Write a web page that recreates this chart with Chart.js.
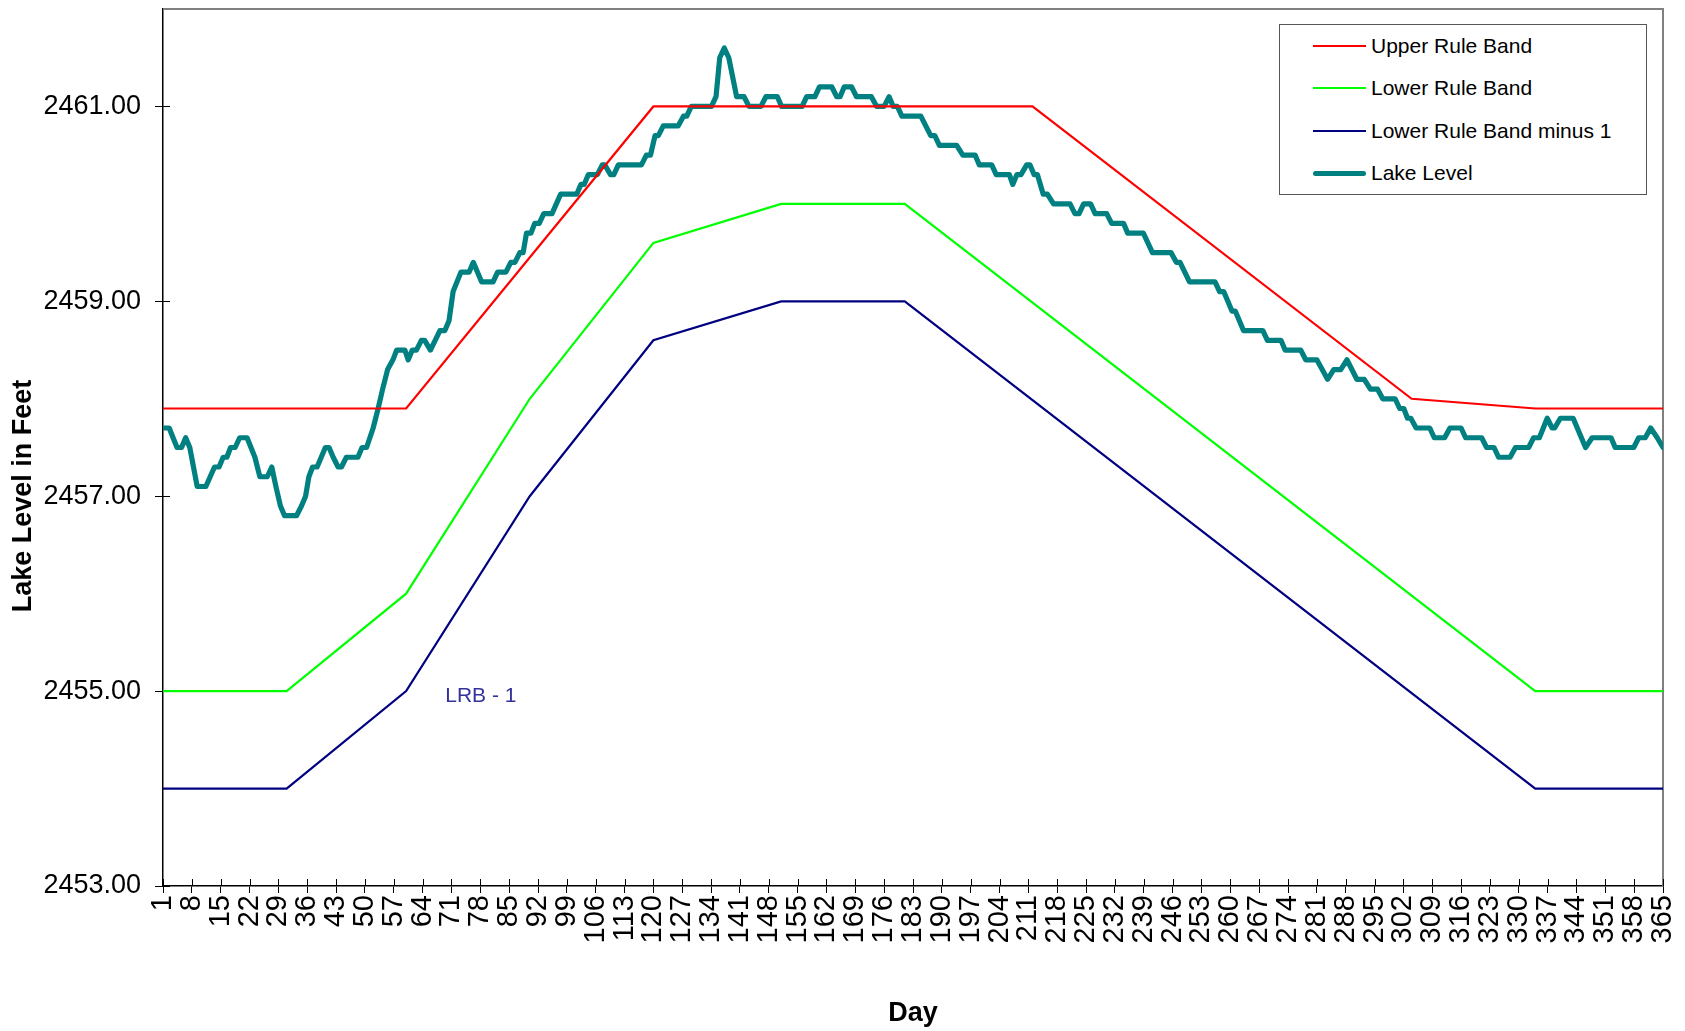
<!DOCTYPE html>
<html>
<head>
<meta charset="utf-8">
<script src="https://cdn.jsdelivr.net/npm/chart.js@4.4.1/dist/chart.umd.min.js"></script>
<style>
html,body{margin:0;padding:0;background:#fff;}
#wrap{position:relative;width:1685px;height:1031px;overflow:hidden;}
canvas{display:block;}
#legend{position:absolute;left:1279px;top:24px;width:366px;height:169px;border:1px solid #555;background:#fff;font-family:"Liberation Sans",Arial,sans-serif;font-size:21px;color:#000;}
.item{position:absolute;left:33px;height:30px;display:flex;align-items:center;white-space:nowrap;}
.swatch{width:53px;margin-right:5px;}
</style>
</head>
<body>
<div id="wrap"><canvas id="c" width="1685" height="1031"></canvas><div id="legend"></div></div>
<script>
const FONT = '"Liberation Sans", Arial, sans-serif';

const dayTicks = [1,8,15,22,29,36,43,50,57,64,71,78,85,92,99,106,113,120,127,134,141,148,155,162,169,176,183,190,197,204,211,218,225,232,239,246,253,260,267,274,281,288,295,302,309,316,323,330,337,344,351,358,365];
const levelTicks = [2453,2455,2457,2459,2461];

const seriesNames = ['Upper Rule Band','Lower Rule Band','Lower Rule Band minus 1','Lake Level'];

const upperDays   = [1, 60, 120, 212, 304, 334, 365];
const upperLevels = [2457.9, 2457.9, 2461.0, 2461.0, 2458.0, 2457.9, 2457.9];

const lowerDays   = [1, 31, 60, 90, 120, 151, 181, 334, 365];
const lowerLevels = [2455.0, 2455.0, 2456.0, 2458.0, 2459.6, 2460.0, 2460.0, 2455.0, 2455.0];

const lrbDays     = [1, 31, 60, 90, 120, 151, 181, 334, 365];
const lrbLevels   = [2454.0, 2454.0, 2455.0, 2457.0, 2458.6, 2459.0, 2459.0, 2454.0, 2454.0];

const lakeDays = [1,2.5,4.4,5.5,6.5,7.5,9.3,11.4,13.5,14.6,15.6,16.5,17.4,18.5,19.6,21.4,23.3,24.5,26.3,27.4,28.4,29.5,30.5,33.4,34.6,35.6,36.4,37.3,38.4,40.4,41.3,42.3,43.5,44.3,45.5,48.3,49.3,50.4,52,53.2,54.3,55.5,56.8,57.7,59.7,60.5,61.5,62.5,63.7,64.5,65.9,68.2,69.4,70.4,71.4,73.3,75.3,76.3,78.3,81.1,82.2,84.2,85.4,86.4,87.6,88.4,89.2,90.3,91.2,92.3,93.4,95.4,97.5,101.4,102.4,103.2,104.2,106.4,107.6,108.2,109.6,110.4,111.5,117.1,118.3,119.3,120.4,121.2,122.4,126.0,127.3,128.1,129.2,134.1,135.2,136.1,137.2,138.3,140.2,142.0,143.2,146.1,147.3,150.1,151.1,156.1,157.2,159.2,160.3,163.3,164.5,165.3,166.3,168.1,169.3,172.9,174.2,176.0,177.2,178.2,179.2,180.3,184.9,187.3,188.3,189.4,193.6,195.1,198.1,199.1,202.1,203.2,206.4,207.2,208.2,209.2,210.6,211.4,212.4,213.2,214.6,215.6,217.1,221.1,222.3,223.3,224.4,226.1,227.2,230.0,231.2,234.1,235.1,238.9,241.1,245.6,246.9,247.8,250.1,256.3,257.4,258.4,260.4,261.2,263.2,267.9,269.0,272.3,273.3,277.1,278.3,281.0,283.6,285.1,286.8,288.3,290.7,292.5,294.0,295.7,297.0,300.0,301.1,302.1,303.0,303.8,305.1,308.4,309.5,312.0,313.3,316.0,317.1,321.0,322.2,324.0,325.1,327.9,329.2,332.4,333.6,335.0,336.9,338.1,338.7,340.1,343.2,346.2,347.8,352.4,353.4,357.9,359.1,360.7,362.0,363.6,365];
const lakeLevels = [2457.7,2457.7,2457.5,2457.5,2457.6,2457.5,2457.1,2457.1,2457.3,2457.3,2457.4,2457.4,2457.5,2457.5,2457.6,2457.6,2457.4,2457.2,2457.2,2457.3,2457.1,2456.9,2456.8,2456.8,2456.9,2457.0,2457.2,2457.3,2457.3,2457.5,2457.5,2457.4,2457.3,2457.3,2457.4,2457.4,2457.5,2457.5,2457.7,2457.9,2458.1,2458.3,2458.4,2458.5,2458.5,2458.4,2458.5,2458.5,2458.6,2458.6,2458.5,2458.7,2458.7,2458.8,2459.1,2459.3,2459.3,2459.4,2459.2,2459.2,2459.3,2459.3,2459.4,2459.4,2459.5,2459.5,2459.7,2459.7,2459.8,2459.8,2459.9,2459.9,2460.1,2460.1,2460.2,2460.2,2460.3,2460.3,2460.4,2460.4,2460.3,2460.3,2460.4,2460.4,2460.5,2460.5,2460.7,2460.7,2460.8,2460.8,2460.9,2460.9,2461.0,2461.0,2461.1,2461.5,2461.6,2461.5,2461.1,2461.1,2461.0,2461.0,2461.1,2461.1,2461.0,2461.0,2461.1,2461.1,2461.2,2461.2,2461.1,2461.1,2461.2,2461.2,2461.1,2461.1,2461.0,2461.0,2461.1,2461.0,2461.0,2460.9,2460.9,2460.7,2460.7,2460.6,2460.6,2460.5,2460.5,2460.4,2460.4,2460.3,2460.3,2460.2,2460.3,2460.3,2460.4,2460.4,2460.3,2460.3,2460.1,2460.1,2460.0,2460.0,2459.9,2459.9,2460.0,2460.0,2459.9,2459.9,2459.8,2459.8,2459.7,2459.7,2459.5,2459.5,2459.4,2459.4,2459.2,2459.2,2459.1,2459.1,2458.9,2458.9,2458.7,2458.7,2458.6,2458.6,2458.5,2458.5,2458.4,2458.4,2458.2,2458.3,2458.3,2458.4,2458.2,2458.2,2458.1,2458.1,2458.0,2458.0,2457.9,2457.9,2457.8,2457.8,2457.7,2457.7,2457.6,2457.6,2457.7,2457.7,2457.6,2457.6,2457.5,2457.5,2457.4,2457.4,2457.5,2457.5,2457.6,2457.6,2457.8,2457.7,2457.7,2457.8,2457.8,2457.5,2457.6,2457.6,2457.5,2457.5,2457.6,2457.6,2457.7,2457.6,2457.5];

const annotationText = 'LRB - 1';
const annotationDay = 69.5;
const annotationLevel = 2454.95;
const yTitle = 'Lake Level in Feet';
const xTitle = 'Day';

function pts(xs, ys){ return xs.map((d,i)=>({x:d, y:ys[i]})); }

const colors = ['#FF0000','#00FF00','#000080','#008080'];
const widths = [2.2, 2.2, 2.2, 5.2];

const datasets = [
  {label: seriesNames[0], data: pts(upperDays, upperLevels)},
  {label: seriesNames[1], data: pts(lowerDays, lowerLevels)},
  {label: seriesNames[2], data: pts(lrbDays, lrbLevels)},
  {label: seriesNames[3], data: pts(lakeDays, lakeLevels)}
].map((d,i)=>Object.assign(d,{
  borderColor: colors[i], backgroundColor: colors[i], borderWidth: widths[i],
  pointRadius: 0, tension: 0, fill: false,
  borderJoinStyle: i===3 ? 'round' : 'miter', borderCapStyle: i===3 ? 'round':'butt'
}));

const decor = {
  id: 'decor',
  beforeDatasetsDraw(chart){
    const {ctx, chartArea:a, scales:{x, y}} = chart;
    ctx.save();
    ctx.strokeStyle = '#808080';
    ctx.lineWidth = 2;
    ctx.beginPath();
    ctx.moveTo(a.left, a.top); ctx.lineTo(a.right, a.top); ctx.lineTo(a.right, a.bottom);
    ctx.stroke();
    ctx.strokeStyle = '#000';
    ctx.lineWidth = 1;
    ctx.beginPath();
    x.ticks.forEach(t=>{ const px = Math.round(x.getPixelForValue(t.value))+0.5; ctx.moveTo(px, a.bottom); ctx.lineTo(px, a.bottom-7); });
    y.ticks.forEach(t=>{ const py = Math.round(y.getPixelForValue(t.value))+0.5; ctx.moveTo(a.left, py); ctx.lineTo(a.left+7, py); });
    ctx.stroke();
    ctx.restore();
  },
  afterDraw(chart){
    const {ctx, scales:{x, y}} = chart;
    ctx.save();
    ctx.fillStyle = '#333399';
    ctx.font = '21px ' + FONT;
    ctx.textAlign = 'left';
    ctx.textBaseline = 'middle';
    ctx.fillText(annotationText, x.getPixelForValue(annotationDay), y.getPixelForValue(annotationLevel));
    ctx.fillStyle = '#000';
    ctx.font = 'bold 27px ' + FONT;
    ctx.translate(24, 496);
    ctx.rotate(-Math.PI/2);
    ctx.textAlign = 'center';
    ctx.fillText(yTitle, 0, 0);
    ctx.restore();
  }
};

const chart = new Chart(document.getElementById('c'), {
  type: 'line',
  data: { datasets },
  options: {
    responsive: false,
    animation: false,
    devicePixelRatio: 1,
    layout: { padding: { left: 0, right: 22, top: 9, bottom: 0 } },
    plugins: { legend: { display: false }, tooltip: { enabled: false } },
    scales: {
      x: {
        type: 'linear', min: 1, max: 365,
        afterBuildTicks: s => { s.ticks = dayTicks.map(v => ({ value: v })); },
        ticks: { autoSkip: false, minRotation: 90, maxRotation: 90, padding: 2, color: '#000',
                 font: { family: FONT, size: 29 }, callback: v => String(v) },
        grid: { drawOnChartArea: false, tickLength: 7, tickColor: '#000', tickWidth: 1 },
        border: { color: '#000', width: 1.5 },
        title: { display: true, text: xTitle, color: '#000', font: { family: FONT, size: 27, weight: 'bold' }, padding: { top: 0, bottom: 1 } },
        afterFit: s => { s.height = 1031 - 886; s.paddingLeft = 0; s.paddingRight = 0; }
      },
      y: {
        type: 'linear', min: 2453, max: 2462,
        afterBuildTicks: s => { s.ticks = levelTicks.map(v => ({ value: v })); },
        ticks: { padding: 14, color: '#000', font: { family: FONT, size: 27 }, callback: v => Number(v).toFixed(2) },
        grid: { drawOnChartArea: false, tickLength: 8, tickColor: '#000', tickWidth: 1 },
        border: { color: '#000', width: 1.5 },
        afterFit: s => { s.width = 163; s.paddingTop = 0; s.paddingBottom = 0; }
      }
    }
  },
  plugins: [decor]
});

const leg = document.getElementById('legend');
const tops = [6, 48, 91, 133];
chart.data.datasets.forEach((ds, i) => {
  const it = document.createElement('div');
  it.className = 'item';
  it.style.top = tops[i] + 'px';
  const sw = document.createElement('span');
  sw.className = 'swatch';
  sw.style.height = (i === 3 ? 5 : 2) + 'px';
  sw.style.background = ds.borderColor;
  if (i === 3) sw.style.borderRadius = '3px';
  const tx = document.createElement('span');
  tx.textContent = ds.label;
  it.appendChild(sw); it.appendChild(tx);
  leg.appendChild(it);
});
</script>
</body>
</html>
